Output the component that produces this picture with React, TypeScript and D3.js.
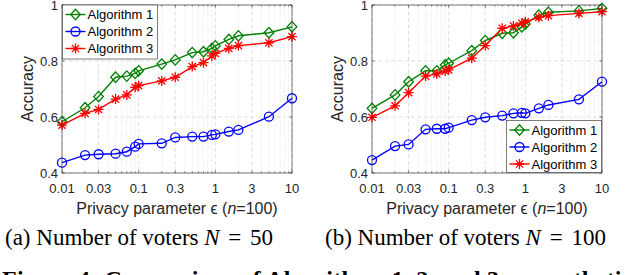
import React, { useEffect, useRef } from 'react'
import * as d3 from 'd3'

// privacy parameter values on the x axis
const epsilons = [0.01, 0.02, 0.03, 0.05, 0.07, 0.09, 0.1, 0.2, 0.3, 0.5, 0.7, 0.9, 1, 1.5, 2, 5, 10]

// (a) N = 50
const alg1N50 = [0.583, 0.633, 0.673, 0.742, 0.746, 0.756, 0.765, 0.789, 0.804, 0.83, 0.833, 0.845, 0.854, 0.877, 0.89, 0.901, 0.922]
const alg2N50 = [0.437, 0.464, 0.467, 0.469, 0.476, 0.494, 0.504, 0.506, 0.527, 0.53, 0.53, 0.536, 0.538, 0.548, 0.554, 0.601, 0.667]
const alg3N50 = [0.571, 0.613, 0.627, 0.664, 0.679, 0.706, 0.712, 0.729, 0.742, 0.78, 0.794, 0.818, 0.827, 0.845, 0.855, 0.865, 0.887]

// (b) N = 100
const alg1N100 = [0.631, 0.679, 0.726, 0.765, 0.765, 0.786, 0.792, 0.837, 0.873, 0.899, 0.901, 0.922, 0.932, 0.964, 0.974, 0.979, 0.988]
const alg2N100 = [0.446, 0.496, 0.502, 0.556, 0.558, 0.558, 0.562, 0.589, 0.599, 0.605, 0.613, 0.615, 0.613, 0.631, 0.643, 0.663, 0.726]
const alg3N100 = [0.599, 0.64, 0.687, 0.746, 0.754, 0.764, 0.768, 0.81, 0.855, 0.917, 0.925, 0.935, 0.94, 0.956, 0.962, 0.97, 0.976]

const seriesNames = ['Algorithm 1', 'Algorithm 2', 'Algorithm 3']
const xTicks = [0.01, 0.03, 0.1, 0.3, 1, 3, 10]
const yTicks = [0.4, 0.6, 0.8, 1]
const captionCounts = ['50', '100']
const captionLetters = ['(a)', '(b)']

const colors = ['#008000', '#0000ff', '#ff0000']
const markers = ['diamond', 'circle', 'star']
const axisColor = '#262626'
const sans = '"Liberation Sans", Arial, sans-serif'
const serif = '"Liberation Serif", "Times New Roman", serif'

function markerPath(kind: string) {
  if (kind === 'diamond') return 'M0,-5.2L4.8,0L0,5.2L-4.8,0Z'
  if (kind === 'circle') return d3.symbol(d3.symbolCircle, Math.PI * 4.5 * 4.5)()
  const a = 5, b = 3.6
  return `M${-a},0L${a},0M0,${-a}L0,${a}M${-b},${-b}L${b},${b}M${-b},${b}L${b},${-b}`
}

function drawPanel(svg: any, dx: number, series: number[][], legendAt: string, idx: number) {
  const left = dx + 62
  const right = dx + 292
  const top = 5
  const bottom = 173
  const x = d3.scaleLog().domain([0.01, 10]).range([left, right])
  const y = d3.scaleLinear().domain([0.4, 1]).range([bottom, top])
  const g = svg.append('g')

  const isMajor = (t: number) => xTicks.some((m) => Math.abs(Math.log10(m) - Math.log10(t)) < 1e-6)
  const minor = x.ticks().filter((t: number) => !isMajor(t))

  // grid
  g.selectAll('.minor-grid').data(minor).enter().append('line')
    .attr('x1', (d: number) => x(d)).attr('x2', (d: number) => x(d))
    .attr('y1', top).attr('y2', bottom)
    .attr('stroke', '#d4d4d4').attr('stroke-width', 0.6).attr('stroke-dasharray', '1,1.5')
  g.selectAll('.xgrid').data(xTicks).enter().append('line')
    .attr('x1', (d: number) => x(d)).attr('x2', (d: number) => x(d))
    .attr('y1', top).attr('y2', bottom)
    .attr('stroke', '#d0d0d0').attr('stroke-width', 0.7).attr('stroke-dasharray', '4,2.5')
  g.selectAll('.ygrid').data(yTicks).enter().append('line')
    .attr('x1', left).attr('x2', right)
    .attr('y1', (d: number) => y(d)).attr('y2', (d: number) => y(d))
    .attr('stroke', '#d0d0d0').attr('stroke-width', 0.7).attr('stroke-dasharray', '4,2.5')

  // ticks (inward, all sides)
  const tk = g.append('g').attr('stroke', axisColor).attr('stroke-width', 0.6)
  xTicks.forEach((t) => {
    tk.append('line').attr('x1', x(t)).attr('x2', x(t)).attr('y1', bottom).attr('y2', bottom - 2.5)
    tk.append('line').attr('x1', x(t)).attr('x2', x(t)).attr('y1', top).attr('y2', top + 2.5)
  })
  minor.forEach((t: number) => {
    tk.append('line').attr('x1', x(t)).attr('x2', x(t)).attr('y1', bottom).attr('y2', bottom - 1.5)
    tk.append('line').attr('x1', x(t)).attr('x2', x(t)).attr('y1', top).attr('y2', top + 1.5)
  })
  yTicks.forEach((t) => {
    tk.append('line').attr('x1', left).attr('x2', left + 2.5).attr('y1', y(t)).attr('y2', y(t))
    tk.append('line').attr('x1', right).attr('x2', right - 2.5).attr('y1', y(t)).attr('y2', y(t))
  })

  // series
  const line = d3.line<number>().x((_, i) => x(epsilons[i])).y((d) => y(d))
  series.forEach((vals, s) => {
    g.append('path').attr('d', line(vals)).attr('fill', 'none')
      .attr('stroke', colors[s]).attr('stroke-width', 1.4)
    g.selectAll('.m' + s).data(vals).enter().append('path')
      .attr('d', markerPath(markers[s]))
      .attr('transform', (d: number, i: number) => `translate(${x(epsilons[i])},${y(d)})`)
      .attr('fill', 'none').attr('stroke', colors[s]).attr('stroke-width', 1.3)
  })

  // box
  g.append('rect').attr('x', left).attr('y', top).attr('width', right - left).attr('height', bottom - top)
    .attr('fill', 'none').attr('stroke', axisColor).attr('stroke-width', 0.6)

  // tick labels
  g.selectAll('.xl').data(xTicks).enter().append('text')
    .attr('x', (d: number) => x(d)).attr('y', 193)
    .attr('text-anchor', 'middle').attr('font-family', sans).attr('font-size', 13).attr('fill', axisColor)
    .text((d: number) => String(d))
  g.selectAll('.yl').data(yTicks).enter().append('text')
    .attr('x', left - 4).attr('y', (d: number) => y(d) + 4.8)
    .attr('text-anchor', 'end').attr('font-family', sans).attr('font-size', 13).attr('fill', axisColor)
    .text((d: number) => String(d))

  // axis labels
  const xl = g.append('text').attr('x', (left + right) / 2).attr('y', 214)
    .attr('text-anchor', 'middle').attr('font-family', sans).attr('font-size', 16).attr('fill', axisColor)
  xl.append('tspan').text('Privacy parameter \u03F5 (')
  xl.append('tspan').attr('font-style', 'italic').text('n')
  xl.append('tspan').text('=100)')
  g.append('text').attr('transform', `translate(${dx + 33},${(top + bottom) / 2}) rotate(-90)`)
    .attr('text-anchor', 'middle').attr('font-family', sans).attr('font-size', 16).attr('fill', axisColor)
    .text('Accuracy')

  // legend
  const lw = 95
  const lh = legendAt === 'nw' ? 54 : 52
  const lx = legendAt === 'nw' ? left + 0.5 : right - lw - 0.5
  const ly = legendAt === 'nw' ? top : bottom - lh - 0.5
  const lg = g.append('g')
  lg.append('rect').attr('x', lx).attr('y', ly).attr('width', lw).attr('height', lh)
    .attr('fill', '#fff').attr('stroke', axisColor).attr('stroke-width', 0.6)
  seriesNames.forEach((name, s) => {
    const ry = ly + 9.5 + s * 17
    lg.append('line').attr('x1', lx + 3).attr('x2', lx + 23).attr('y1', ry).attr('y2', ry)
      .attr('stroke', colors[s]).attr('stroke-width', 1.4)
    lg.append('path').attr('d', markerPath(markers[s])).attr('transform', `translate(${lx + 13},${ry})`)
      .attr('fill', 'none').attr('stroke', colors[s]).attr('stroke-width', 1.3)
    lg.append('text').attr('x', lx + 25).attr('y', ry + 4.6)
      .attr('font-family', sans).attr('font-size', 13).attr('fill', '#000').text(name)
  })

  // caption
  const cap = svg.append('text').attr('x', idx === 0 ? 5 : 325).attr('y', 245)
    .attr('font-family', serif).attr('font-size', 23).attr('fill', '#000')
  cap.append('tspan').text(`${captionLetters[idx]} Number of voters `)
  cap.append('tspan').attr('font-style', 'italic').text('N')
  cap.append('tspan').attr('dx', 3).text(' = ')
  cap.append('tspan').attr('dx', 3).text(captionCounts[idx])
}

export default function App() {
  const ref = useRef<SVGSVGElement>(null)
  useEffect(() => {
    const svg = d3.select(ref.current)
    svg.selectAll('*').remove()
    drawPanel(svg, 0, [alg1N50, alg2N50, alg3N50], 'nw', 0)
    drawPanel(svg, 310, [alg1N100, alg2N100, alg3N100], 'se', 1)
    svg.append('text').attr('x', 2).attr('y', 287)
      .attr('font-family', serif).attr('font-size', 24).attr('font-weight', 'bold').attr('fill', '#000')
      .attr('letter-spacing', 0.3)
      .text('Figure 4: Comparison of Algorithms 1, 2, and 3 on synthetic data')
  }, [])
  return (
    <svg ref={ref} width={640} height={275}
      style={{ position: 'absolute', left: 0, top: 0, background: '#fff' }} />
  )
}
